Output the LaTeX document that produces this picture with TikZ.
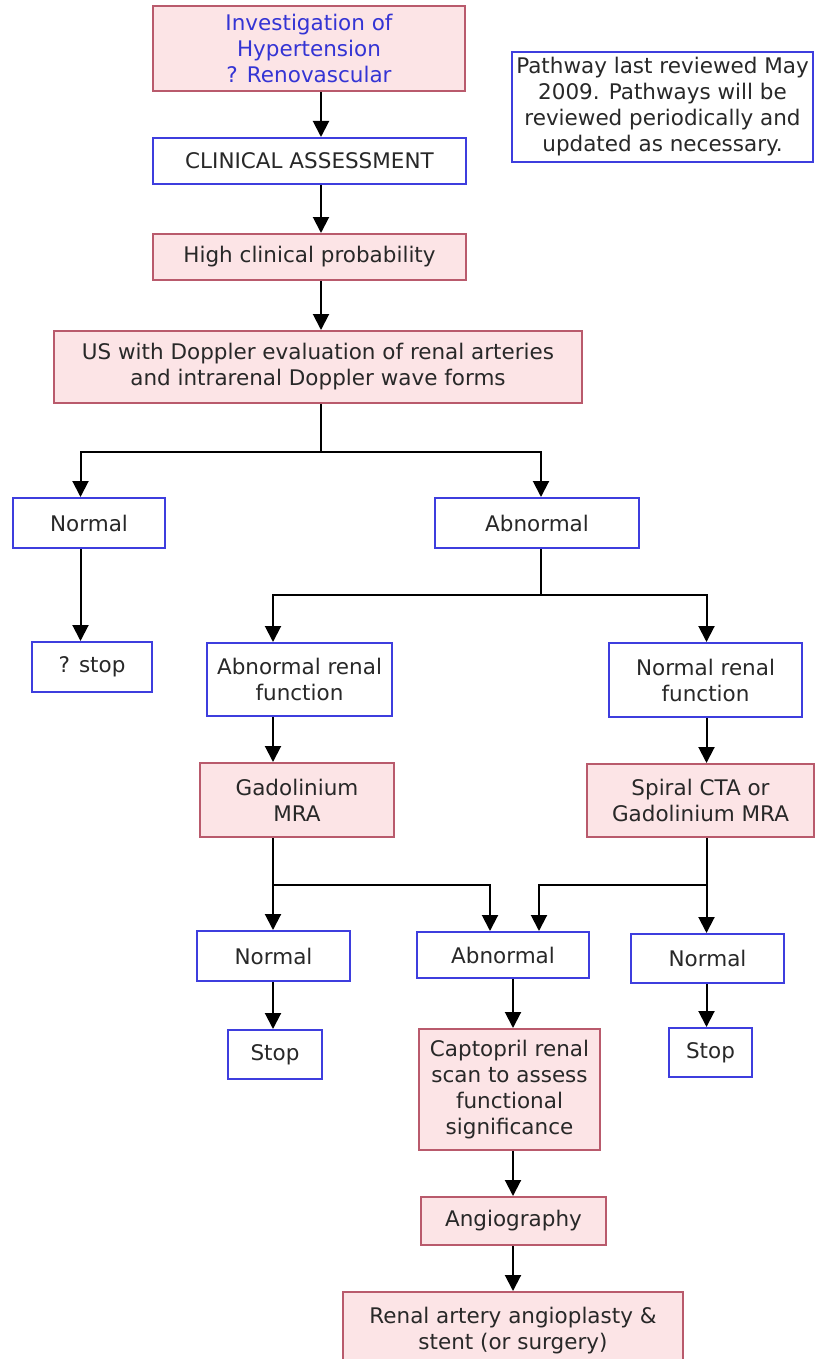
\documentclass[tikz,border=0pt]{standalone}
\usepackage{fontspec}
\setmainfont{DejaVu Sans}
\usetikzlibrary{arrows.meta}
\definecolor{pinkfill}{RGB}{252,228,230}
\definecolor{pinkdraw}{RGB}{185,90,108}
\definecolor{bluedraw}{RGB}{62,62,222}
\definecolor{txtgray}{RGB}{40,40,40}
\definecolor{titleblue}{RGB}{52,52,212}
\tikzset{
  basebox/.style={rectangle, inner sep=0pt, align=center, line width=2pt,
    text=txtgray, font=\fontsize{21.5}{26}\selectfont},
  pinkbox/.style={basebox, draw=pinkdraw, fill=pinkfill},
  bluebox/.style={basebox, draw=bluedraw, fill=white},
  conn/.style={line width=2pt, black},
  arr/.style={conn, -{Triangle[width=16pt,length=16pt]}},
}
\begin{document}
\begin{tikzpicture}[x=1pt,y=-1pt]
\useasboundingbox (0,0) rectangle (815,1359);
\clip (0,0) rectangle (815,1359);
\fill[white] (0,0) rectangle (815,1359);

% nodes
\node[pinkbox, text=titleblue, minimum width=312pt, minimum height=85pt] (top) at (309,48.5) {Investigation of\\Hypertension\\? Renovascular};
\node[bluebox, minimum width=301pt, minimum height=110pt] (note) at (662.5,107) {Pathway last reviewed May\\2009. Pathways will be\\reviewed periodically and\\updated as necessary.};
\node[bluebox, minimum width=313pt, minimum height=46pt] (clin) at (309.5,161) {CLINICAL ASSESSMENT};
\node[pinkbox, minimum width=313pt, minimum height=46pt] (high) at (309.5,257) {High clinical probability};
\node[pinkbox, minimum width=528pt, minimum height=72pt] (us) at (318,367) {US with Doppler evaluation of renal arteries\\and intrarenal Doppler wave forms};
\node[bluebox, minimum width=152pt, minimum height=50pt] (n1) at (89,523) {Normal};
\node[bluebox, minimum width=204pt, minimum height=50pt] (ab1) at (537,523) {Abnormal};
\node[bluebox, minimum width=120pt, minimum height=50pt] (qstop) at (92,667) {? stop};
\node[bluebox, minimum width=185pt, minimum height=73pt] (arf) at (299.5,679.5) {Abnormal renal\\function};
\node[bluebox, minimum width=193pt, minimum height=74pt] (nrf) at (705.5,680) {Normal renal\\function};
\node[pinkbox, minimum width=194pt, minimum height=74pt] (gad) at (297,800) {Gadolinium\\MRA};
\node[pinkbox, minimum width=227pt, minimum height=73pt] (spi) at (700.5,800.5) {Spiral CTA or\\Gadolinium MRA};
\node[bluebox, minimum width=153pt, minimum height=50pt] (n2) at (273.5,956) {Normal};
\node[bluebox, minimum width=172pt, minimum height=46pt] (ab2) at (503,955) {Abnormal};
\node[bluebox, minimum width=153pt, minimum height=49pt] (n3) at (707.5,958.5) {Normal};
\node[bluebox, minimum width=94pt, minimum height=49pt] (stop2) at (275,1054.5) {Stop};
\node[pinkbox, minimum width=181pt, minimum height=121pt] (capt) at (509.5,1089.5) {Captopril renal\\scan to assess\\functional\\significance};
\node[bluebox, minimum width=83pt, minimum height=49pt] (stop3) at (710.5,1052.5) {Stop};
\node[pinkbox, minimum width=185pt, minimum height=48pt] (angio) at (513.5,1221) {Angiography};
\node[pinkbox, minimum width=340pt, minimum height=78pt] (renal) at (513,1331) {Renal artery angioplasty \&\\stent (or surgery)};

% column coordinates
\coordinate (xa) at (321,0);
\coordinate (xb) at (80.5,0);
\coordinate (xc) at (541,0);
\coordinate (xd) at (273,0);
\coordinate (xe) at (706.5,0);
\coordinate (xf) at (490,0);
\coordinate (xg) at (539,0);
\coordinate (xh) at (513,0);

\coordinate (j1) at (321,452);
\coordinate (j2) at (541,595);
\coordinate (j3) at (273,885);
\coordinate (j4) at (706.5,885);

% connectors
\draw[arr] (top.south -| xa) -- (clin.north -| xa);
\draw[arr] (clin.south -| xa) -- (high.north -| xa);
\draw[arr] (high.south -| xa) -- (us.north -| xa);

\draw[conn] (us.south -| j1) -- (j1);
\draw[arr] (j1) -| (n1.north -| xb);
\draw[arr] (j1) -| (ab1.north -| xc);

\draw[arr] (n1.south -| xb) -- (qstop.north -| xb);

\draw[conn] (ab1.south -| j2) -- (j2);
\draw[arr] (j2) -| (arf.north -| xd);
\draw[arr] (j2) -| (nrf.north -| xe);

\draw[arr] (arf.south -| xd) -- (gad.north -| xd);
\draw[arr] (nrf.south -| xe) -- (spi.north -| xe);

\draw[conn] (gad.south -| j3) -- (j3);
\draw[arr] (j3) -- (n2.north -| xd);
\draw[arr] (j3) -| (ab2.north -| xf);

\draw[conn] (spi.south -| j4) -- (j4);
\draw[arr] (j4) -- (n3.north -| xe);
\draw[arr] (j4) -| (ab2.north -| xg);

\draw[arr] (n2.south -| xd) -- (stop2.north -| xd);
\draw[arr] (n3.south -| xe) -- (stop3.north -| xe);
\draw[arr] (ab2.south -| xh) -- (capt.north -| xh);
\draw[arr] (capt.south -| xh) -- (angio.north -| xh);
\draw[arr] (angio.south -| xh) -- (renal.north -| xh);
\end{tikzpicture}
\end{document}
